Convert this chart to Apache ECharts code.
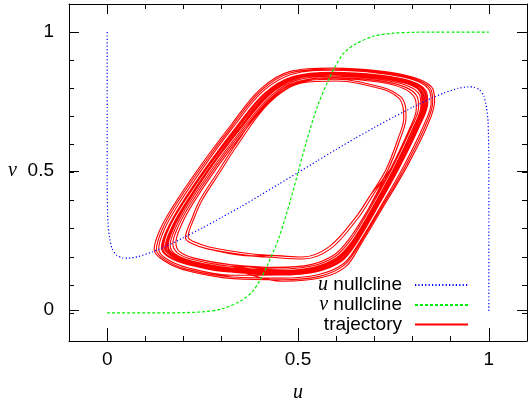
<!DOCTYPE html>
<html><head><meta charset="utf-8">
<script src="https://cdn.jsdelivr.net/npm/echarts@6/dist/echarts.min.js"></script>
<style>html,body{margin:0;padding:0;background:#fff}#c{width:528px;height:408px}</style>
</head><body><div id="c"></div>
<script>
// ---- data ----
const majorTicks = [0, 0.5, 1];
const minorInterval = 0.1;
const seriesNames = ['u nullcline', 'v nullcline', 'trajectory'];

const uNullcline = [[0,1],[0,0.7],[0,0.45],[0.002,0.32],[0.006,0.27],[0.013,0.228],[0.025,0.205],[0.04,0.196],[0.055,0.195],[0.08,0.2],[0.118,0.217],
  [0.15,0.235],[0.2,0.268],[0.25,0.303],[0.3,0.34],[0.35,0.378],[0.4,0.418],[0.45,0.459],[0.5,0.5],[0.55,0.541],[0.6,0.582],[0.65,0.622],
  [0.7,0.66],[0.75,0.697],[0.8,0.732],[0.85,0.765],[0.882,0.783],[0.92,0.8],[0.945,0.805],[0.96,0.804],[0.975,0.795],[0.987,0.772],
  [0.994,0.73],[0.998,0.68],[1,0.55],[1,0.3],[1,0]];

const vNullcline = [[0,0],[0.15,0],[0.2,0.001],[0.25,0.004],[0.3,0.014],[0.35,0.043],[0.38,0.075],[0.4,0.116],[0.42,0.17],[0.45,0.268],
  [0.48,0.4],[0.5,0.5],[0.52,0.6],[0.55,0.732],[0.58,0.83],[0.6,0.884],[0.62,0.925],[0.65,0.957],[0.7,0.986],[0.75,0.996],[0.8,0.999],[0.85,1],[1,1]];

const loop1 = [[0.123,0.225],[0.138,0.295],[0.175,0.385],[0.245,0.525],[0.325,0.67],[0.40,0.795],[0.48,0.86],[0.59,0.872],[0.71,0.862],[0.80,0.84],[0.85,0.805],
  [0.858,0.755],[0.84,0.67],[0.785,0.52],[0.72,0.37],[0.665,0.245],[0.625,0.165],[0.56,0.125],[0.46,0.113],[0.33,0.122],[0.21,0.15],[0.15,0.185]];
const loop2 = [[0.142,0.232],[0.158,0.3],[0.193,0.385],[0.26,0.52],[0.338,0.662],[0.412,0.782],[0.487,0.842],[0.593,0.857],[0.712,0.847],[0.795,0.826],[0.835,0.792],
  [0.84,0.748],[0.82,0.67],[0.765,0.516],[0.704,0.366],[0.652,0.246],[0.612,0.182],[0.546,0.146],[0.452,0.135],[0.322,0.146],[0.212,0.172],[0.16,0.2]];
const loop3 = [[0.152,0.235],[0.168,0.302],[0.202,0.384],[0.267,0.516],[0.346,0.658],[0.419,0.776],[0.49,0.836],[0.594,0.851],[0.712,0.84],[0.791,0.819],[0.827,0.786],
  [0.832,0.744],[0.812,0.669],[0.759,0.516],[0.699,0.367],[0.647,0.249],[0.607,0.189],[0.542,0.153],[0.45,0.142],[0.319,0.153],[0.215,0.178],[0.168,0.203]];
const loop4 = [[0.165,0.242],[0.18,0.305],[0.212,0.385],[0.276,0.515],[0.354,0.655],[0.427,0.77],[0.495,0.828],[0.596,0.843],[0.71,0.832],[0.785,0.81],[0.818,0.778],
  [0.822,0.738],[0.803,0.664],[0.751,0.514],[0.692,0.368],[0.641,0.254],[0.601,0.197],[0.538,0.162],[0.448,0.151],[0.322,0.161],[0.222,0.185],[0.178,0.21]];
const loop5 = [[0.148,0.238],[0.163,0.305],[0.198,0.388],[0.264,0.519],[0.343,0.66],[0.417,0.779],[0.489,0.839],[0.595,0.853],[0.713,0.842],[0.793,0.821],[0.83,0.788],
  [0.835,0.745],[0.815,0.668],[0.762,0.515],[0.701,0.365],[0.649,0.246],[0.609,0.186],[0.544,0.15],[0.451,0.139],[0.32,0.15],[0.213,0.176],[0.165,0.205]];
const loop6 = [[0.135,0.228],[0.15,0.298],[0.186,0.385],[0.254,0.522],[0.332,0.665],[0.407,0.788],[0.484,0.85],[0.592,0.864],[0.711,0.854],[0.798,0.832],[0.842,0.798],
  [0.849,0.75],[0.83,0.67],[0.775,0.518],[0.712,0.368],[0.658,0.245],[0.618,0.174],[0.552,0.136],[0.456,0.124],[0.326,0.134],[0.211,0.161],[0.155,0.193]];
const loop7 = [[0.212,0.27],[0.228,0.338],[0.249,0.402],[0.295,0.5],[0.338,0.591],[0.424,0.747],[0.51,0.819],[0.599,0.826],[0.72,0.797],[0.764,0.765],[0.775,0.733],
  [0.777,0.694],[0.762,0.62],[0.73,0.509],[0.69,0.42],[0.652,0.342],[0.581,0.235],[0.51,0.199],[0.43,0.205],[0.38,0.21],[0.267,0.235],[0.228,0.253]];
const loop8 = [[0.205,0.268],[0.222,0.336],[0.243,0.402],[0.29,0.502],[0.334,0.595],[0.42,0.752],[0.507,0.824],[0.598,0.832],[0.722,0.803],[0.768,0.771],[0.781,0.738],
  [0.783,0.697],[0.768,0.62],[0.735,0.507],[0.695,0.416],[0.657,0.337],[0.585,0.228],[0.512,0.192],[0.43,0.198],[0.378,0.203],[0.263,0.228],[0.222,0.247]];
const loop9 = [[0.158,0.24],[0.173,0.304],[0.206,0.386],[0.271,0.517],[0.35,0.657],[0.423,0.773],[0.493,0.832],[0.595,0.847],[0.711,0.836],[0.788,0.815],[0.823,0.782],
  [0.827,0.741],[0.808,0.666],[0.755,0.515],[0.695,0.367],[0.644,0.251],[0.604,0.193],[0.54,0.157],[0.449,0.146],[0.32,0.157],[0.218,0.181],[0.172,0.206]];
const loop10 = [[0.18,0.25],[0.195,0.315],[0.225,0.39],[0.285,0.512],[0.36,0.648],[0.43,0.76],[0.5,0.818],[0.598,0.834],[0.712,0.822],[0.778,0.798],[0.806,0.765],
  [0.81,0.728],[0.792,0.655],[0.742,0.512],[0.685,0.372],[0.635,0.265],[0.596,0.208],[0.534,0.172],[0.445,0.162],[0.322,0.172],[0.228,0.195],[0.19,0.218]];
const loop11 = [[0.129,0.226],[0.144,0.296],[0.18,0.385],[0.249,0.523],[0.328,0.667],[0.403,0.791],[0.482,0.855],[0.591,0.868],[0.71,0.858],[0.799,0.836],[0.846,0.801],
  [0.853,0.752],[0.835,0.67],[0.78,0.519],[0.716,0.369],[0.661,0.245],[0.621,0.17],[0.556,0.13],[0.458,0.118],[0.328,0.128],[0.21,0.155],[0.152,0.189]];
const loop12 = [[0.155,0.237],[0.17,0.303],[0.204,0.385],[0.269,0.516],[0.348,0.657],[0.421,0.775],[0.491,0.834],[0.594,0.849],[0.711,0.838],[0.789,0.817],[0.825,0.784],
  [0.83,0.742],[0.81,0.667],[0.757,0.515],[0.697,0.367],[0.645,0.25],[0.605,0.191],[0.541,0.155],[0.449,0.144],[0.319,0.155],[0.216,0.18],[0.17,0.205]];
const loop13 = [[0.145,0.235],[0.16,0.302],[0.195,0.386],[0.262,0.52],[0.34,0.661],[0.414,0.781],[0.488,0.841],[0.594,0.855],[0.712,0.845],[0.794,0.824],[0.832,0.79],
  [0.837,0.746],[0.817,0.669],[0.763,0.515],[0.702,0.365],[0.65,0.246],[0.61,0.184],[0.545,0.148],[0.451,0.137],[0.321,0.148],[0.212,0.174],[0.162,0.202]];
const loop14 = [[0.16,0.24],[0.175,0.304],[0.208,0.386],[0.272,0.518],[0.35,0.66],[0.422,0.778],[0.492,0.838],[0.595,0.852],[0.711,0.84],[0.787,0.818],[0.821,0.785],
  [0.825,0.742],[0.805,0.666],[0.752,0.514],[0.693,0.368],[0.642,0.253],[0.602,0.196],[0.539,0.16],[0.448,0.149],[0.321,0.159],[0.22,0.183],[0.175,0.208]];
const loop15 = [[0.172,0.246],[0.187,0.31],[0.218,0.387],[0.28,0.513],[0.357,0.652],[0.428,0.765],[0.497,0.823],[0.597,0.838],[0.711,0.827],[0.781,0.804],[0.812,0.771],
  [0.816,0.733],[0.797,0.66],[0.746,0.513],[0.688,0.37],[0.638,0.26],[0.598,0.202],[0.536,0.167],[0.446,0.156],[0.322,0.166],[0.225,0.19],[0.184,0.214]];

// order in which the loops are travelled
const loopOrder = [loop3, loop12, loop5, loop13, loop2, loop6, loop11, loop1, loop9, loop14, loop4, loop15, loop10, loop7, loop8, loop8,
  loop10, loop15, loop4, loop14, loop12, loop3, loop5, loop13, loop9, loop2];
const innerLoops = [loop7, loop8];

// walk the loops: main loops hand over on the long bottom edge, the inner loops on the lower-right side
const trajectory = [];
(function () {
  const n = 22;
  let s = 19;
  for (let k = 0; k < loopOrder.length; k++) {
    const l = loopOrder[k], nx = loopOrder[k + 1];
    const e = (nx && (innerLoops.indexOf(l) >= 0) !== (innerLoops.indexOf(nx) >= 0)) ? 13 : 18;
    let i = s, count = 0;
    while (true) {
      trajectory.push(l[i]); count++;
      if (i === e && count >= 12) break;
      i = (i + 1) % n;
    }
    s = (e + 1) % n;
  }
  trajectory.push(loopOrder[loopOrder.length - 1][s]);
})();

// ---- chart ----
const chart = echarts.init(document.getElementById('c'), null, {renderer: 'canvas'});
const FONT = 'Liberation Sans';
const black = '#000';
const gridPos = {left: 69, right: 1, top: 4, bottom: 67, containLabel: false};

function xAx(grid, pos, major) {
  const a = {
    type: 'value', gridIndex: grid, position: pos, min: -0.1, max: 1.1, interval: minorInterval,
    splitLine: {show: false},
    axisLine: {show: !major, onZero: false, lineStyle: {color: black, width: 1}},
    axisTick: {show: true, inside: true, length: major ? 10 : 5, lineStyle: {color: black, width: 1}},
    axisLabel: {show: false}
  };
  if (major) {
    a.axisTick.customValues = majorTicks;
    if (pos === 'bottom') {
      a.axisLabel = {show: true, customValues: majorTicks, color: black, fontFamily: FONT, fontSize: 19, margin: 12};
      a.name = 'u';
      a.nameLocation = 'middle';
      a.nameGap = 45;
      a.nameTextStyle = {fontFamily: 'Liberation Serif', fontStyle: 'italic', fontSize: 20, color: black};
    }
  }
  return a;
}
function yAx(grid, pos, major) {
  const a = {
    type: 'value', gridIndex: grid, position: pos, min: -0.1, max: 1.1, interval: minorInterval,
    splitLine: {show: false},
    axisLine: {show: !major, onZero: false, lineStyle: {color: black, width: 1}},
    axisTick: {show: true, inside: true, length: major ? 10 : 5, lineStyle: {color: black, width: 1}},
    axisLabel: {show: false}
  };
  if (major) {
    a.axisTick.customValues = majorTicks;
    if (pos === 'left') {
      a.axisLabel = {show: true, customValues: majorTicks, color: black, fontFamily: FONT, fontSize: 19, margin: 15};
      a.name = 'v';
      a.nameLocation = 'middle';
      a.nameRotate = 0;
      a.nameGap = 52;
      a.nameTextStyle = {fontFamily: 'Liberation Serif', fontStyle: 'italic', fontSize: 20, color: black};
    }
  }
  return a;
}

const option = {
  backgroundColor: '#fff',
  animation: false,
  grid: [Object.assign({}, gridPos), Object.assign({}, gridPos)],
  xAxis: [xAx(0, 'bottom', false), xAx(0, 'top', false), xAx(1, 'bottom', true), xAx(1, 'top', true)],
  yAxis: [yAx(0, 'left', false), yAx(0, 'right', false), yAx(1, 'left', true), yAx(1, 'right', true)],
  legend: {
    orient: 'vertical', right: 54, top: 270, align: 'right',
    itemWidth: 53, itemHeight: 10, itemGap: 0,
    itemStyle: {opacity: 0},
    data: seriesNames,
    formatter: function (n) { return n === 'u nullcline' ? '{i|u} nullcline' : (n === 'v nullcline' ? '{i|v} nullcline' : n); },
    textStyle: {fontFamily: FONT, fontSize: 19, color: black, lineHeight: 19, padding: [0, 8, 0, 0],
      rich: {i: {fontFamily: 'Liberation Serif', fontStyle: 'italic', fontSize: 20, color: black, lineHeight: 19}}}
  },
  series: [
    {name: 'trajectory', type: 'line', xAxisIndex: 0, yAxisIndex: 0, data: trajectory, smooth: 0.35, symbol: 'none',
      lineStyle: {color: '#ff0000', width: 1.1}, itemStyle: {color: '#ff0000'}},
    {name: 'u nullcline', type: 'line', xAxisIndex: 0, yAxisIndex: 0, data: uNullcline, smooth: 0.2, symbol: 'none',
      lineStyle: {color: '#0000ff', width: 1.2, type: [1.2, 2.2]}, itemStyle: {color: '#0000ff'}},
    {name: 'v nullcline', type: 'line', xAxisIndex: 0, yAxisIndex: 0, data: vNullcline, smooth: 0.3, symbol: 'none',
      lineStyle: {color: '#00f000', width: 1.2, type: [3, 2]}, itemStyle: {color: '#00f000'}}
  ]
};
chart.setOption(option);
</script></body></html>
